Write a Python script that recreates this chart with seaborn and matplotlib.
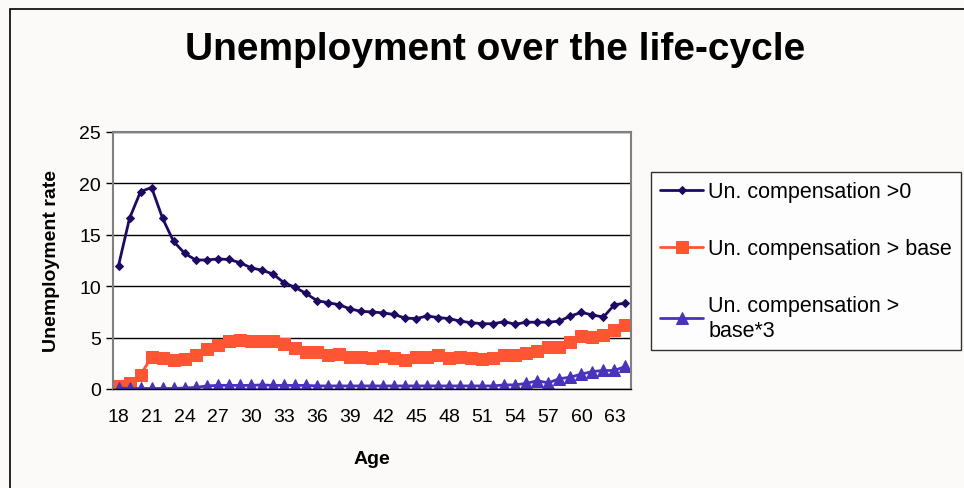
import pandas as pd
import matplotlib
matplotlib.use("Agg")
import matplotlib.pyplot as plt
import seaborn as sns
from matplotlib.patches import Rectangle

ages = list(range(18, 65))

comp_pos = [12.0, 16.6, 19.2, 19.6, 16.6, 14.35, 13.2, 12.55, 12.55, 12.65,
            12.6, 12.3, 11.8, 11.55, 11.2, 10.35, 9.9, 9.3, 8.6, 8.4,
            8.2, 7.8, 7.55, 7.5, 7.4, 7.25, 6.9, 6.85, 7.1, 6.95,
            6.85, 6.6, 6.45, 6.35, 6.35, 6.55, 6.3, 6.5, 6.5, 6.5,
            6.6, 7.1, 7.45, 7.2, 7.0, 8.2, 8.35]

comp_base = [0.25, 0.6, 1.4, 3.1, 3.05, 2.8, 2.9, 3.35, 3.85, 4.25,
             4.7, 4.75, 4.7, 4.7, 4.7, 4.35, 4.0, 3.6, 3.6, 3.3,
             3.4, 3.1, 3.1, 3.0, 3.2, 3.0, 2.85, 3.1, 3.1, 3.3,
             3.05, 3.1, 3.05, 2.9, 3.05, 3.3, 3.3, 3.55, 3.65, 4.05,
             4.1, 4.6, 5.15, 5.05, 5.3, 5.7, 6.2]

comp_base3 = [0.1, 0.05, 0.05, 0.05, 0.05, 0.05, 0.1, 0.15, 0.3, 0.35,
              0.35, 0.35, 0.35, 0.4, 0.35, 0.35, 0.35, 0.35, 0.3, 0.3,
              0.3, 0.3, 0.3, 0.3, 0.3, 0.3, 0.3, 0.3, 0.3, 0.3,
              0.3, 0.3, 0.3, 0.3, 0.3, 0.4, 0.4, 0.55, 0.8, 0.6,
              1.0, 1.15, 1.45, 1.7, 1.8, 1.8, 2.2]

labels = ["Un. compensation >0", "Un. compensation > base",
          "Un. compensation >\nbase*3"]
tick_ages = list(range(18, 64, 3))

df = pd.DataFrame({"age": ages, "s1": comp_pos, "s2": comp_base, "s3": comp_base3})

sns.set_style("white")
plt.rcParams["font.family"] = ["Liberation Sans", "DejaVu Sans"]
plt.rcParams["text.color"] = "black"
plt.rcParams["axes.labelcolor"] = "black"
plt.rcParams["xtick.color"] = "black"
plt.rcParams["ytick.color"] = "black"

fig = plt.figure(figsize=(9.64, 4.89), dpi=100)
fig.patch.set_facecolor("#fbfaf8")
fig.patches.append(Rectangle((10 / 964, -0.1), 1.2, 1.1 - 10 / 489,
                             transform=fig.transFigure, fill=False,
                             edgecolor="black", linewidth=1.2))

ax = fig.add_axes([113 / 964, 1 - 390 / 489, 518 / 964, 257 / 489])
ax.set_facecolor("white")

styles = [("s1", "#1f0a63", "D", 4), ("s2", "#ff5533", "s", 8.5), ("s3", "#4a33bb", "^", 8.5)]
for (col, color, marker, ms), lab in zip(styles, labels):
    sns.lineplot(data=df, x="age", y=col, ax=ax, color=color, marker=marker,
                 markersize=ms, markeredgecolor=color, linewidth=2, label=lab)

ax.set_ylim(0, 25)
ax.set_xlim(17.5, 64.5)
ax.set_yticks(range(0, 26, 5))
ax.yaxis.grid(True, color="black", linewidth=1)
ax.set_xticks(tick_ages)
ax.set_xticks([a - 0.5 for a in ages] + [64.5], minor=True)
ax.tick_params(axis="x", which="major", length=0, labelsize=14, pad=14)
ax.tick_params(axis="x", which="minor", length=5, width=1, color="black", direction="out")
ax.tick_params(axis="y", length=5, width=1, color="black", direction="out", labelsize=14, left=True)
for side in ["top", "right", "bottom", "left"]:
    ax.spines[side].set_color("#808080")
    ax.spines[side].set_linewidth(1.5)
ax.spines["bottom"].set_color("black")
ax.spines["bottom"].set_linewidth(1)

ax.set_xlabel("Age", fontsize=14, fontweight="bold", labelpad=18)
ax.set_ylabel("Unemployment rate", fontsize=14, fontweight="bold", labelpad=14)

fig.text(495 / 964, 1 - 50 / 489, "Unemployment over the life-cycle",
         ha="center", va="center", fontsize=28, fontweight="bold")

leg = ax.legend(loc="upper left", bbox_to_anchor=(651 / 964, 1 - 173 / 489),
                bbox_transform=fig.transFigure, fontsize=15.5, frameon=True,
                fancybox=False, edgecolor="black", labelspacing=1.68,
                handlelength=2.0, handletextpad=0.25, borderpad=0.42,
                borderaxespad=0)
leg.get_frame().set_linewidth(1)

fig.savefig("out.png", dpi=100, facecolor=fig.get_facecolor())
